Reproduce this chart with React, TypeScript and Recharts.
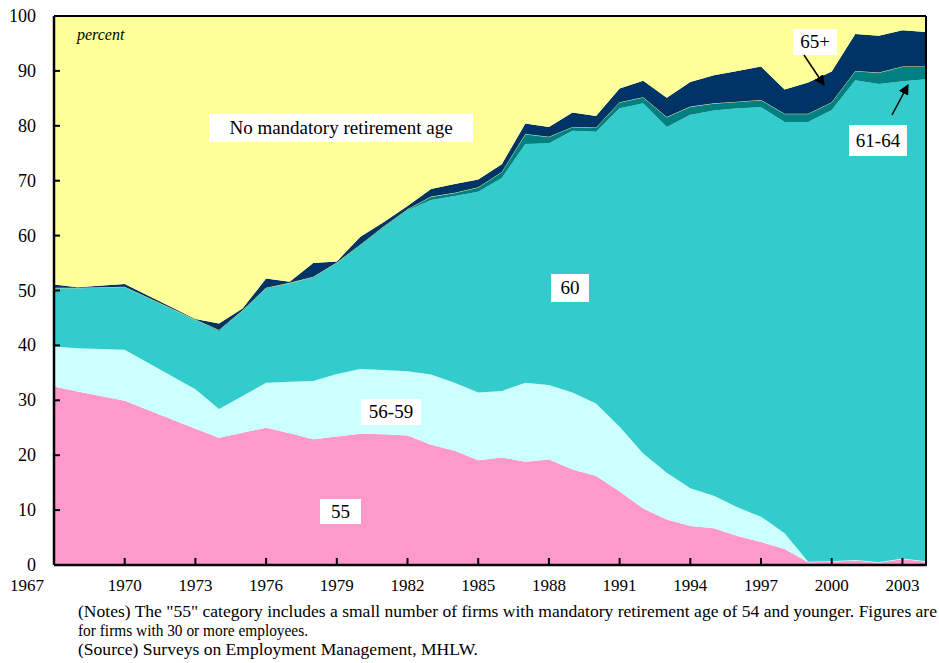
import React from 'react';
import { AreaChart, Area, XAxis, YAxis } from 'recharts';

const years = [
  1967, 1968, 1970, 1973, 1974, 1975, 1976, 1977, 1978, 1979, 1980, 1981, 1982, 1983, 1984, 1985, 1986, 1987,
  1988, 1989, 1990, 1991, 1992, 1993, 1994, 1995, 1996, 1997, 1998, 1999, 2000, 2001, 2002, 2003, 2004,
];
const age55 = [
  32.5, 31.6, 29.9, 24.8, 23.2, 24.1, 25.0, 24.0, 22.9, 23.4, 23.9, 23.8, 23.6, 21.9, 20.8, 19.1, 19.6, 18.8,
  19.2, 17.4, 16.2, 13.4, 10.3, 8.3, 7.1, 6.7, 5.3, 4.2, 2.9, 0.5, 0.6, 0.8, 0.4, 1.1, 0.6,
];
const age56to59 = [
  7.3, 7.9, 9.3, 7.2, 5.2, 6.7, 8.2, 9.4, 10.6, 11.4, 11.8, 11.7, 11.7, 12.8, 12.4, 12.3, 12.1, 14.4,
  13.6, 14.0, 13.2, 11.8, 10.0, 8.5, 6.9, 5.9, 5.2, 4.6, 2.9, 0.1, 0.1, 0.1, 0.1, 0.1, 0.1,
];
const age60 = [
  10.6, 10.9, 11.4, 12.6, 14.2, 15.5, 17.1, 17.9, 18.8, 20.2, 22.5, 26.0, 29.3, 31.8, 34.0, 36.6, 38.8, 43.5,
  44.0, 47.7, 49.5, 58.0, 63.8, 63.0, 68.0, 70.2, 72.7, 74.6, 74.9, 80.1, 82.2, 87.4, 87.1, 86.9, 87.8,
];
const age61to64 = [
  0.1, 0.1, 0.1, 0.1, 0.2, 0.1, 0.2, 0.1, 0.2, 0.1, 0.2, 0.2, 0.2, 0.6, 0.6, 0.8, 1.1, 1.8,
  1.2, 0.7, 0.8, 1.1, 1.1, 1.8, 1.5, 1.3, 1.2, 1.3, 1.5, 1.5, 1.4, 1.7, 2.1, 2.7, 2.3,
];
const age65plus = [
  0.6, 0.1, 0.5, 0.1, 1.2, 0.3, 1.7, 0.2, 2.5, 0.2, 1.4, 0.8, 0.6, 1.4, 1.6, 1.4, 1.4, 1.9,
  1.8, 2.6, 2.1, 2.5, 3.0, 3.5, 4.5, 5.1, 5.6, 6.1, 4.4, 5.7, 5.6, 6.7, 6.7, 6.6, 6.3,
];
const noMandatory = [
  48.9, 49.4, 48.8, 55.2, 56.0, 53.3, 47.8, 48.4, 45.0, 44.7, 40.2, 37.5, 34.6, 31.5, 30.6, 29.8, 27.0, 19.6,
  20.2, 17.6, 18.2, 13.2, 11.8, 14.9, 12.0, 10.8, 10.0, 9.2, 13.4, 12.1, 10.1, 3.3, 3.6, 2.6, 2.9,
];

const xTicks = [1967, 1970, 1973, 1976, 1979, 1982, 1985, 1988, 1991, 1994, 1997, 2000, 2003];
const yTicks = [0, 10, 20, 30, 40, 50, 60, 70, 80, 90, 100];

const data = years.map((year, i) => ({
  year,
  a55: age55[i],
  a56: age56to59[i],
  a60: age60[i],
  a61: age61to64[i],
  a65: age65plus[i],
  none: noMandatory[i],
}));

const FONT = '"Liberation Serif", "Times New Roman", serif';

const XTick = (props: any) => {
  const { x, y, payload } = props;
  const lx = payload.value === 1967 ? x - 27 : x;
  return (
    <g>
      <line x1={x} x2={x} y1={y} y2={y - 7} stroke="#000" strokeWidth={2} />
      <text x={lx} y={y + 26} textAnchor="middle" fontSize={17} fontFamily={FONT} fill="#000">
        {payload.value}
      </text>
    </g>
  );
};

const YTick = (props: any) => {
  const { x, y, payload } = props;
  return (
    <g>
      <line x1={x} x2={x + 6} y1={y} y2={y} stroke="#000" strokeWidth={2} />
      <text x={x - 18} y={y + 6} textAnchor="end" fontSize={18} fontFamily={FONT} fill="#000">
        {payload.value}
      </text>
    </g>
  );
};

const Box = ({ x, y, w, h, text }: { x: number; y: number; w: number; h: number; text: string }) => (
  <g>
    <rect x={x} y={y} width={w} height={h} fill="#fff" />
    <text x={x + w / 2} y={y + h / 2 + 6} textAnchor="middle" fontSize={19} fontFamily={FONT} fill="#000">
      {text}
    </text>
  </g>
);

export default function App() {
  return (
    <div style={{ position: 'relative', width: 939, height: 663, background: '#fff' }}>
      <style>{`body{margin:0}`}</style>
      <AreaChart width={939} height={663} data={data} margin={{ top: 16, right: 13, bottom: 68, left: 0 }}>
        <Area type="linear" dataKey="a55" stackId="1" stroke="none" fill="#FF99CC" fillOpacity={1} isAnimationActive={false} dot={false} activeDot={false} />
        <Area type="linear" dataKey="a56" stackId="1" stroke="none" fill="#CCFFFF" fillOpacity={1} isAnimationActive={false} dot={false} activeDot={false} />
        <Area type="linear" dataKey="a60" stackId="1" stroke="none" fill="#33CCCC" fillOpacity={1} isAnimationActive={false} dot={false} activeDot={false} />
        <Area type="linear" dataKey="a61" stackId="1" stroke="#F2F2A0" strokeWidth={1} fill="#008080" fillOpacity={1} isAnimationActive={false} dot={false} activeDot={false} />
        <Area type="linear" dataKey="a65" stackId="1" stroke="none" fill="#003366" fillOpacity={1} isAnimationActive={false} dot={false} activeDot={false} />
        <Area type="linear" dataKey="none" stackId="1" stroke="none" fill="#FFFF99" fillOpacity={1} isAnimationActive={false} dot={false} activeDot={false} />
        <XAxis
          dataKey="year"
          type="number"
          domain={[1967, 2004]}
          ticks={xTicks}
          interval={0}
          height={30}
          tickSize={0}
          tickMargin={0}
          tickLine={false}
          axisLine={{ stroke: '#000', strokeWidth: 2.5 }}
          tick={<XTick />}
        />
        <YAxis
          type="number"
          domain={[0, 100]}
          ticks={yTicks}
          interval={0}
          width={54}
          tickSize={0}
          tickMargin={0}
          tickLine={false}
          allowDataOverflow
          axisLine={{ stroke: '#000', strokeWidth: 2.5 }}
          tick={<YTick />}
        />
      </AreaChart>
      <svg width={939} height={663} style={{ position: 'absolute', left: 0, top: 0, pointerEvents: 'none' }}>
        <defs>
          <marker id="arr" viewBox="0 0 10 10" refX="9" refY="5" markerWidth="7" markerHeight="7" orient="auto">
            <path d="M0,0 L10,5 L0,10 z" fill="#000" />
          </marker>
        </defs>
        <line x1={54} x2={926} y1={16} y2={16} stroke="#000" strokeWidth={2} />
        <line x1={926} x2={926} y1={16} y2={566} stroke="#000" strokeWidth={2} />
        <text x={77} y={40} fontSize={16} fontStyle="italic" fontFamily={FONT} fill="#000">
          percent
        </text>
        <Box x={209} y={114} w={264} h={28} text="No mandatory retirement age" />
        <Box x={551} y={274} w={38} h={28} text="60" />
        <Box x={361} y={399} w={60} h={26} text="56-59" />
        <Box x={320} y={499} w={41} h={25} text="55" />
        <Box x={793} y={29} w={44} h={26} text="65+" />
        <Box x={849} y={125} w={58} h={31} text="61-64" />
        <line x1={804} y1={55} x2={824} y2={85} stroke="#000" strokeWidth={1.5} markerEnd="url(#arr)" />
        <line x1={892} y1={115} x2={908} y2={85} stroke="#000" strokeWidth={1.5} markerEnd="url(#arr)" />
        <text x={78} y={617} fontSize={17} fontFamily={FONT} fill="#000" textLength={859} lengthAdjust="spacingAndGlyphs">
          (Notes) The "55" category includes a small number of firms with mandatory retirement age of 54 and younger.  Figures are
        </text>
        <text x={78} y={636} fontSize={17} fontFamily={FONT} fill="#000" textLength={230} lengthAdjust="spacingAndGlyphs">
          for firms with 30 or more employees.
        </text>
        <text x={78} y={655} fontSize={17} fontFamily={FONT} fill="#000" textLength={400} lengthAdjust="spacingAndGlyphs">
          (Source) Surveys on Employment Management, MHLW.
        </text>
      </svg>
    </div>
  );
}
